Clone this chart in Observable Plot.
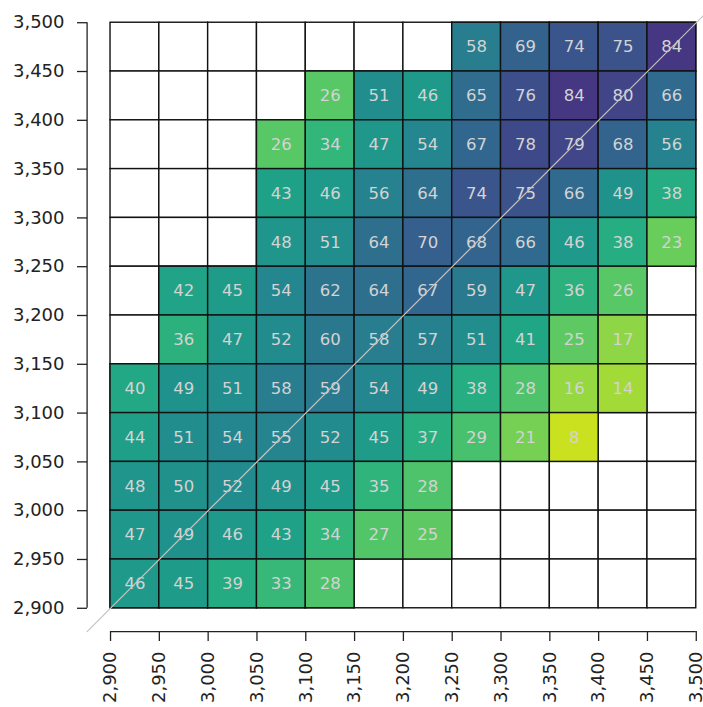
<!DOCTYPE html>
<html>
<head>
<meta charset="utf-8">
<script src="https://cdn.jsdelivr.net/npm/d3@7"></script>
<script src="https://cdn.jsdelivr.net/npm/@observablehq/plot@0.6"></script>
<style>
  html, body { margin: 0; padding: 0; background: #fff; }
  #chart svg { display: block; }
</style>
</head>
<body>
<div id="chart"></div>
<script>
// Tick labels (both axes)
const ticks = [2900, 2950, 3000, 3050, 3100, 3150, 3200, 3250, 3300, 3350, 3400, 3450, 3500];
// Bin starts (x and y), bin width 50
const binStarts = [2900, 2950, 3000, 3050, 3100, 3150, 3200, 3250, 3300, 3350, 3400, 3450];
const binWidth = 50;

// Values per row (y bin start), columns follow binStarts; null = empty cell
const row3450 = [null, null, null, null, null, null, null, 58, 69, 74, 75, 84];
const row3400 = [null, null, null, null, 26, 51, 46, 65, 76, 84, 80, 66];
const row3350 = [null, null, null, 26, 34, 47, 54, 67, 78, 79, 68, 56];
const row3300 = [null, null, null, 43, 46, 56, 64, 74, 75, 66, 49, 38];
const row3250 = [null, null, null, 48, 51, 64, 70, 68, 66, 46, 38, 23];
const row3200 = [null, 42, 45, 54, 62, 64, 67, 59, 47, 36, 26, null];
const row3150 = [null, 36, 47, 52, 60, 58, 57, 51, 41, 25, 17, null];
const row3100 = [40, 49, 51, 58, 59, 54, 49, 38, 28, 16, 14, null];
const row3050 = [44, 51, 54, 55, 52, 45, 37, 29, 21, 8, null, null];
const row3000 = [48, 50, 52, 49, 45, 35, 28, null, null, null, null, null];
const row2950 = [47, 49, 46, 43, 34, 27, 25, null, null, null, null, null];
const row2900 = [46, 45, 39, 33, 28, null, null, null, null, null, null, null];

const rows = [
  [3450, row3450], [3400, row3400], [3350, row3350], [3300, row3300],
  [3250, row3250], [3200, row3200], [3150, row3150], [3100, row3100],
  [3050, row3050], [3000, row3000], [2950, row2950], [2900, row2900]
];

const allCells = [];
const cells = [];
for (const [y, vals] of rows) {
  vals.forEach((v, i) => {
    const c = {x: binStarts[i], y, v};
    allCells.push(c);
    if (v != null) cells.push(c);
  });
}

// base-R style 4% axis expansion
const lo = ticks[0], hi = ticks[ticks.length - 1];
const ext = (hi - lo) * 0.04;
const domain = [lo - ext, hi + ext];
const diag = domain;

const chart = Plot.plot({
  width: 703,
  height: 707,
  marginLeft: 87,
  marginRight: 0,
  marginTop: 0,
  marginBottom: 76,
  style: {fontFamily: "DejaVu Sans", fontSize: "18px", color: "#222", background: "#fff"},
  x: {domain, range: [86.6, 719.2], label: null},
  y: {domain, range: [631.2, -1.2], label: null},
  color: {type: "linear", scheme: "viridis", domain: [0, 100], reverse: true},
  marks: [
    Plot.rect(allCells, {x1: "x", x2: d => d.x + binWidth, y1: "y", y2: d => d.y + binWidth,
      fill: "white", stroke: "#111", strokeWidth: 1.4, inset: 0}),
    Plot.rect(cells, {x1: "x", x2: d => d.x + binWidth, y1: "y", y2: d => d.y + binWidth,
      fill: "v", stroke: "#111", strokeWidth: 1.4, inset: 0}),
    Plot.text(cells, {x: d => d.x + binWidth / 2, y: d => d.y + binWidth / 2, text: d => String(d.v),
      fill: "#d3d3d3", fontSize: 16.5}),
    Plot.line(diag, {x: d => d, y: d => d, stroke: "#c4c4c4", strokeWidth: 1.2}),
    // axis lines spanning first to last tick
    Plot.ruleX([domain[0]], {y1: lo, y2: hi, stroke: "#222", strokeWidth: 1.3}),
    Plot.ruleY([domain[0]], {x1: lo, x2: hi, stroke: "#222", strokeWidth: 1.3}),
    Plot.axisY(ticks, {anchor: "left", tickSize: 10, tickPadding: 13, tickFormat: d3.format(","),
      stroke: "#222", strokeWidth: 1.3, fontSize: 18, fill: "#222"}),
    Plot.axisX(ticks, {anchor: "bottom", tickSize: 10, tickPadding: 10, tickRotate: -90,
      tickFormat: d3.format(","), stroke: "#222", strokeWidth: 1.3, fontSize: 18, fill: "#222"})
  ]
});
document.getElementById("chart").appendChild(chart);
</script>
</body>
</html>
